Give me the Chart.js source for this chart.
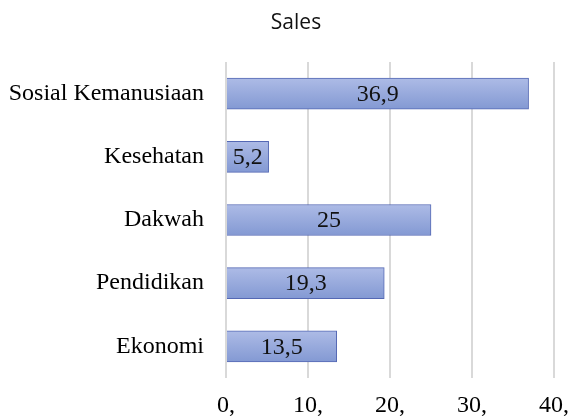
<!DOCTYPE html>
<html>
<head>
<meta charset="utf-8">
<script src="https://cdn.jsdelivr.net/npm/chart.js@4.4.0/dist/chart.umd.min.js"></script>
<style>
  html, body { margin: 0; padding: 0; background: #fff; }
  #wrap { width: 570px; height: 419px; position: relative; }
</style>
</head>
<body>
<div id="wrap"><canvas id="salesChart" width="570" height="419"></canvas></div>
<script>
const categories = ['Sosial Kemanusiaan', 'Kesehatan', 'Dakwah', 'Pendidikan', 'Ekonomi'];
const salesValues = [36.9, 5.2, 25, 19.3, 13.5];
const tickValues = [0, 10, 20, 30, 40];
const chartTitle = 'Sales';

const serif = "'Liberation Serif', 'Times New Roman', serif";

// gradient fill per bar, light on top and darker below
const barGradient = {
    id: 'barGradient',
    beforeDatasetDraw(chart, args) {
        const ctx = chart.ctx;
        args.meta.data.forEach(bar => {
            const top = bar.y - bar.height / 2;
            const g = ctx.createLinearGradient(0, top, 0, top + bar.height);
            g.addColorStop(0, '#adbbe6');
            g.addColorStop(1, '#8399d3');
            bar.options = Object.assign({}, bar.options, { backgroundColor: g });
        });
    }
};

// value text in the middle of each bar
const barLabels = {
    id: 'barLabels',
    afterDatasetsDraw(chart) {
        const ctx = chart.ctx;
        const meta = chart.getDatasetMeta(0);
        ctx.save();
        ctx.font = '24px ' + serif;
        ctx.fillStyle = '#111';
        ctx.textAlign = 'center';
        ctx.textBaseline = 'middle';
        meta.data.forEach((bar, i) => {
            const txt = String(salesValues[i]).replace('.', ',');
            const x = (bar.base + bar.x) / 2;
            ctx.fillText(txt, x, bar.y + 1);
        });
        ctx.restore();
    }
};

const titleText = {
    id: 'titleText',
    afterDraw(chart) {
        const ctx = chart.ctx;
        ctx.save();
        ctx.font = "21px 'Liberation Sans Narrow', 'Open Sans', sans-serif";
        ctx.fillStyle = '#111';
        ctx.textAlign = 'center';
        ctx.textBaseline = 'middle';
        ctx.fillText(chartTitle, 296, 23);
        ctx.restore();
    }
};

const ctx = document.getElementById('salesChart').getContext('2d');
const salesChart = new Chart(ctx, {
    type: 'bar',
    data: {
        labels: categories,
        datasets: [{
            label: chartTitle,
            data: salesValues,
            backgroundColor: '#95a8dc',
            borderColor: '#5468b4',
            borderWidth: 1,
            barThickness: 31
        }]
    },
    options: {
        indexAxis: 'y',
        responsive: false,
        animation: false,
        layout: { padding: { top: 62, right: 16, bottom: 0, left: 0 } },
        plugins: {
            legend: { display: false },
            title: { display: false },
            tooltip: { enabled: false }
        },
        scales: {
            x: {
                min: 0,
                max: 40,
                afterBuildTicks(scale) {
                    scale.ticks = tickValues.map(v => ({ value: v }));
                },
                afterFit(scale) {
                    scale.height = 41;
                    scale.paddingLeft = 0;
                    scale.paddingRight = 0;
                },
                grid: { color: '#d9d9d9', lineWidth: 2, drawTicks: false },
                border: { display: false },
                ticks: {
                    padding: 13,
                    color: '#000',
                    maxRotation: 0,
                    font: { family: serif, size: 24 },
                    callback: v => v + ','
                }
            },
            y: {
                afterFit(scale) { scale.width = 226; },
                grid: { display: false, drawTicks: false },
                border: { display: false },
                ticks: {
                    padding: 22,
                    color: '#000',
                    font: { family: serif, size: 24 }
                }
            }
        }
    },
    plugins: [barGradient, barLabels, titleText]
});
</script>
</body>
</html>
